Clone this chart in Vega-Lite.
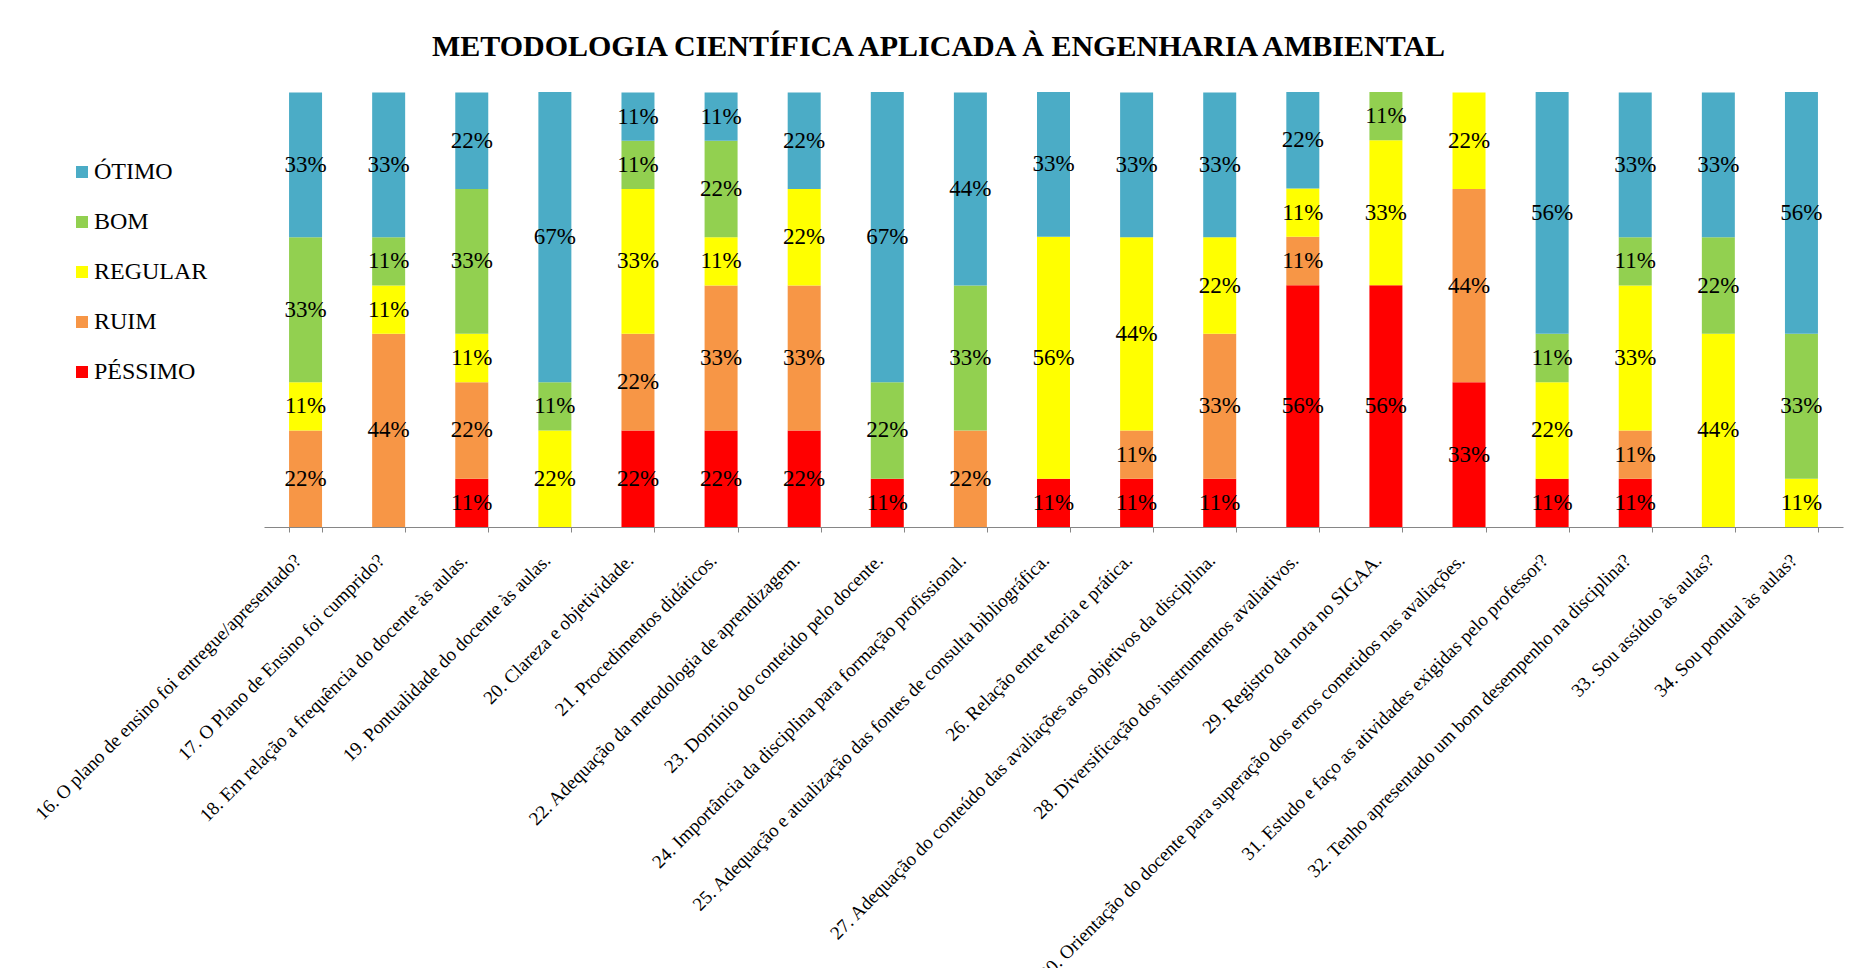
{
 "$schema": "https://vega.github.io/schema/vega-lite/v6.json",
 "width": 1579,
 "height": 435,
 "autosize": {"type": "none"},
 "padding": {"left": 264, "top": 92, "right": 20, "bottom": 441},
 "background": "white",
 "title": {"text": "METODOLOGIA CIENTÍFICA APLICADA À ENGENHARIA AMBIENTAL", "font": "Liberation Serif", "fontSize": 30, "fontWeight": "bold", "color": "black", "offset": 30, "dx": -115},
 "config": {"view": {"stroke": null}, "font": "Liberation Serif", "text": {"font": "Liberation Serif"}, "legend": {"labelFont": "Liberation Serif"}, "axis": {"labelFont": "Liberation Serif"}},
 "data": {"values": [
  {"q": "16. O plano de ensino foi entregue/apresentado?", "cat": "RUIM", "pct": 0.222},
  {"q": "16. O plano de ensino foi entregue/apresentado?", "cat": "REGULAR", "pct": 0.111},
  {"q": "16. O plano de ensino foi entregue/apresentado?", "cat": "BOM", "pct": 0.333},
  {"q": "16. O plano de ensino foi entregue/apresentado?", "cat": "ÓTIMO", "pct": 0.333},
  {"q": "17.  O Plano de Ensino foi cumprido?", "cat": "RUIM", "pct": 0.444},
  {"q": "17.  O Plano de Ensino foi cumprido?", "cat": "REGULAR", "pct": 0.111},
  {"q": "17.  O Plano de Ensino foi cumprido?", "cat": "BOM", "pct": 0.111},
  {"q": "17.  O Plano de Ensino foi cumprido?", "cat": "ÓTIMO", "pct": 0.333},
  {"q": "18.  Em relação a frequência do docente às aulas.", "cat": "PÉSSIMO", "pct": 0.111},
  {"q": "18.  Em relação a frequência do docente às aulas.", "cat": "RUIM", "pct": 0.222},
  {"q": "18.  Em relação a frequência do docente às aulas.", "cat": "REGULAR", "pct": 0.111},
  {"q": "18.  Em relação a frequência do docente às aulas.", "cat": "BOM", "pct": 0.333},
  {"q": "18.  Em relação a frequência do docente às aulas.", "cat": "ÓTIMO", "pct": 0.222},
  {"q": "19. Pontualidade do docente às aulas.", "cat": "REGULAR", "pct": 0.222},
  {"q": "19. Pontualidade do docente às aulas.", "cat": "BOM", "pct": 0.111},
  {"q": "19. Pontualidade do docente às aulas.", "cat": "ÓTIMO", "pct": 0.667},
  {"q": "20. Clareza e objetividade.", "cat": "PÉSSIMO", "pct": 0.222},
  {"q": "20. Clareza e objetividade.", "cat": "RUIM", "pct": 0.222},
  {"q": "20. Clareza e objetividade.", "cat": "REGULAR", "pct": 0.333},
  {"q": "20. Clareza e objetividade.", "cat": "BOM", "pct": 0.111},
  {"q": "20. Clareza e objetividade.", "cat": "ÓTIMO", "pct": 0.111},
  {"q": "21. Procedimentos didáticos.", "cat": "PÉSSIMO", "pct": 0.222},
  {"q": "21. Procedimentos didáticos.", "cat": "RUIM", "pct": 0.333},
  {"q": "21. Procedimentos didáticos.", "cat": "REGULAR", "pct": 0.111},
  {"q": "21. Procedimentos didáticos.", "cat": "BOM", "pct": 0.222},
  {"q": "21. Procedimentos didáticos.", "cat": "ÓTIMO", "pct": 0.111},
  {"q": "22. Adequação da metodologia de aprendizagem.", "cat": "PÉSSIMO", "pct": 0.222},
  {"q": "22. Adequação da metodologia de aprendizagem.", "cat": "RUIM", "pct": 0.333},
  {"q": "22. Adequação da metodologia de aprendizagem.", "cat": "REGULAR", "pct": 0.222},
  {"q": "22. Adequação da metodologia de aprendizagem.", "cat": "ÓTIMO", "pct": 0.222},
  {"q": "23. Domínio do conteúdo pelo docente.", "cat": "PÉSSIMO", "pct": 0.111},
  {"q": "23. Domínio do conteúdo pelo docente.", "cat": "BOM", "pct": 0.222},
  {"q": "23. Domínio do conteúdo pelo docente.", "cat": "ÓTIMO", "pct": 0.667},
  {"q": "24. Importância da disciplina para formação profissional.", "cat": "RUIM", "pct": 0.222},
  {"q": "24. Importância da disciplina para formação profissional.", "cat": "BOM", "pct": 0.333},
  {"q": "24. Importância da disciplina para formação profissional.", "cat": "ÓTIMO", "pct": 0.444},
  {"q": "25. Adequação e atualização das fontes de consulta bibliográfica.", "cat": "PÉSSIMO", "pct": 0.111},
  {"q": "25. Adequação e atualização das fontes de consulta bibliográfica.", "cat": "REGULAR", "pct": 0.556},
  {"q": "25. Adequação e atualização das fontes de consulta bibliográfica.", "cat": "ÓTIMO", "pct": 0.333},
  {"q": "26. Relação entre teoria e prática.", "cat": "PÉSSIMO", "pct": 0.111},
  {"q": "26. Relação entre teoria e prática.", "cat": "RUIM", "pct": 0.111},
  {"q": "26. Relação entre teoria e prática.", "cat": "REGULAR", "pct": 0.444},
  {"q": "26. Relação entre teoria e prática.", "cat": "ÓTIMO", "pct": 0.333},
  {"q": "27. Adequação do conteúdo das avaliações aos objetivos da disciplina.", "cat": "PÉSSIMO", "pct": 0.111},
  {"q": "27. Adequação do conteúdo das avaliações aos objetivos da disciplina.", "cat": "RUIM", "pct": 0.333},
  {"q": "27. Adequação do conteúdo das avaliações aos objetivos da disciplina.", "cat": "REGULAR", "pct": 0.222},
  {"q": "27. Adequação do conteúdo das avaliações aos objetivos da disciplina.", "cat": "ÓTIMO", "pct": 0.333},
  {"q": "28. Diversificação dos instrumentos avaliativos.", "cat": "PÉSSIMO", "pct": 0.556},
  {"q": "28. Diversificação dos instrumentos avaliativos.", "cat": "RUIM", "pct": 0.111},
  {"q": "28. Diversificação dos instrumentos avaliativos.", "cat": "REGULAR", "pct": 0.111},
  {"q": "28. Diversificação dos instrumentos avaliativos.", "cat": "ÓTIMO", "pct": 0.222},
  {"q": "29. Registro da nota no SIGAA.", "cat": "PÉSSIMO", "pct": 0.556},
  {"q": "29. Registro da nota no SIGAA.", "cat": "REGULAR", "pct": 0.333},
  {"q": "29. Registro da nota no SIGAA.", "cat": "BOM", "pct": 0.111},
  {"q": "30. Orientação do docente para superação dos erros cometidos nas avaliações.", "cat": "PÉSSIMO", "pct": 0.333},
  {"q": "30. Orientação do docente para superação dos erros cometidos nas avaliações.", "cat": "RUIM", "pct": 0.444},
  {"q": "30. Orientação do docente para superação dos erros cometidos nas avaliações.", "cat": "REGULAR", "pct": 0.222},
  {"q": "31. Estudo e faço as atividades exigidas pelo professor?", "cat": "PÉSSIMO", "pct": 0.111},
  {"q": "31. Estudo e faço as atividades exigidas pelo professor?", "cat": "REGULAR", "pct": 0.222},
  {"q": "31. Estudo e faço as atividades exigidas pelo professor?", "cat": "BOM", "pct": 0.111},
  {"q": "31. Estudo e faço as atividades exigidas pelo professor?", "cat": "ÓTIMO", "pct": 0.556},
  {"q": "32. Tenho apresentado um bom desempenho na disciplina?", "cat": "PÉSSIMO", "pct": 0.111},
  {"q": "32. Tenho apresentado um bom desempenho na disciplina?", "cat": "RUIM", "pct": 0.111},
  {"q": "32. Tenho apresentado um bom desempenho na disciplina?", "cat": "REGULAR", "pct": 0.333},
  {"q": "32. Tenho apresentado um bom desempenho na disciplina?", "cat": "BOM", "pct": 0.111},
  {"q": "32. Tenho apresentado um bom desempenho na disciplina?", "cat": "ÓTIMO", "pct": 0.333},
  {"q": "33. Sou assíduo às aulas?", "cat": "REGULAR", "pct": 0.444},
  {"q": "33. Sou assíduo às aulas?", "cat": "BOM", "pct": 0.222},
  {"q": "33. Sou assíduo às aulas?", "cat": "ÓTIMO", "pct": 0.333},
  {"q": "34. Sou pontual às aulas?", "cat": "REGULAR", "pct": 0.111},
  {"q": "34. Sou pontual às aulas?", "cat": "BOM", "pct": 0.333},
  {"q": "34. Sou pontual às aulas?", "cat": "ÓTIMO", "pct": 0.556}
 ]},
 "transform": [
  {"stack": "pct", "groupby": ["q"], "as": ["lo", "hi"]},
  {"calculate": "(datum.lo + datum.hi) / 2", "as": "mid"}
 ],
 "encoding": {
  "x": {"field": "q", "type": "nominal", "sort": null,
   "scale": {"paddingInner": 0.603, "paddingOuter": 0.3015},
   "axis": {"title": null, "labelAngle": -45, "labelAlign": "right", "labelBaseline": "middle", "labelFontSize": 19, "labelFont": "Liberation Serif", "labelColor": "black", "labelLimit": 3000, "labelOverlap": false, "labelBound": false, "labelPadding": 25, "labelOffset": -8, "domainColor": "#868686", "tickColor": "#868686", "tickSize": 5, "tickBand": "extent"}}
 },
 "layer": [
  {"mark": {"type": "bar"},
   "encoding": {
    "y": {"field": "lo", "type": "quantitative", "scale": {"domain": [0, 1]}, "axis": null},
    "y2": {"field": "hi"},
    "color": {"field": "cat", "type": "nominal",
     "scale": {"domain": ["ÓTIMO", "BOM", "REGULAR", "RUIM", "PÉSSIMO"], "range": ["#4BACC6", "#92D050", "#FFFF00", "#F79646", "#FF0000"]},
     "legend": {"title": null, "orient": "none", "legendX": -194, "legendY": 68, "symbolType": "square", "symbolSize": 144, "symbolStrokeWidth": 0, "labelFont": "Liberation Serif", "labelFontSize": 24, "labelColor": "black", "rowPadding": 26, "labelOffset": 0}}
   }},
  {"mark": {"type": "text", "font": "Liberation Serif", "fontSize": 23, "baseline": "middle", "color": "black"},
   "encoding": {
    "y": {"field": "mid", "type": "quantitative"},
    "text": {"field": "pct", "type": "quantitative", "format": ".0%"}
   }}
 ]
}
